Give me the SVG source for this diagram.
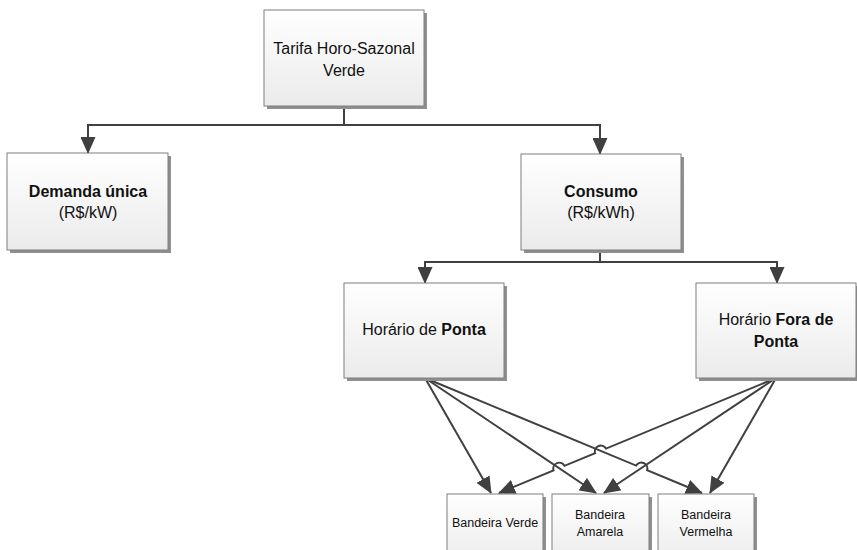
<svg xmlns="http://www.w3.org/2000/svg" width="857" height="550" viewBox="0 0 857 550">
<defs>
<linearGradient id="g" x1="0" y1="0" x2="0" y2="1">
<stop offset="0" stop-color="#ffffff"/>
<stop offset="1" stop-color="#ebebeb"/>
</linearGradient>
<marker id="ah" markerUnits="userSpaceOnUse" markerWidth="17" markerHeight="15" viewBox="0 0 17 15" refX="16" refY="7.5" orient="auto">
<path d="M0,0 L17,7.5 L0,15 Z" fill="#404040"/>
</marker>
</defs>
<style>
.sh{fill:#8f8f8f}
.bx{fill:url(#g);stroke:#7f7f7f;stroke-width:1}
.t{font-family:"Liberation Sans",Arial,sans-serif;font-size:16px;fill:#111111;text-anchor:middle}
.s{font-family:"Liberation Sans",Arial,sans-serif;font-size:12.5px;fill:#111111;text-anchor:middle}
.b{font-weight:bold}
.c{fill:none;stroke:#404040;stroke-width:2}
</style>
<g id="connectors">
<path class="c" d="M344,106 V125 H88 V153" marker-end="url(#ah)"/>
<path class="c" d="M344,125 H600 V154" marker-end="url(#ah)"/>
<path class="c" d="M600,250 V262 H425 V283" marker-end="url(#ah)"/>
<path class="c" d="M600,262 H777 V283" marker-end="url(#ah)"/>
<path class="c" d="M425,378 L491,493" marker-end="url(#ah)"/>
<path class="c" d="M425,378 L596,493" marker-end="url(#ah)"/>
<path class="c" d="M425,378 L636.1,465.6 A6,6 0 0 1 647.1,470.2 L702,493" marker-end="url(#ah)"/>
<path class="c" d="M776,378 L606.1,448.6 A6,6 0 0 0 595.1,453.2 L564.5,465.8 A6,6 0 0 0 553.5,470.4 L499,493" marker-end="url(#ah)"/>
<path class="c" d="M776,378 L604,493" marker-end="url(#ah)"/>
<path class="c" d="M776,378 L710,493" marker-end="url(#ah)"/>
</g>
<g id="tarifa">
<rect class="sh" x="267" y="13" width="160" height="96"/>
<rect class="bx" x="264" y="10" width="160" height="96"/>
<text class="t" x="344" y="54">Tarifa Horo-Sazonal</text>
<text class="t" x="344" y="76">Verde</text>
</g>
<g id="demanda">
<rect class="sh" x="10" y="156" width="161" height="97"/>
<rect class="bx" x="7" y="153" width="161" height="97"/>
<text class="t b" x="88" y="197">Demanda única</text>
<text class="t" x="88" y="218">(R$/kW)</text>
</g>
<g id="consumo">
<rect class="sh" x="524" y="157" width="160" height="96"/>
<rect class="bx" x="521" y="154" width="160" height="96"/>
<text class="t b" x="601" y="197">Consumo</text>
<text class="t" x="601" y="218">(R$/kWh)</text>
</g>
<g id="ponta">
<rect class="sh" x="347" y="286" width="160" height="95"/>
<rect class="bx" x="344" y="283" width="160" height="95"/>
<text class="t" x="424" y="335">Horário de <tspan class="b">Ponta</tspan></text>
</g>
<g id="foraponta">
<rect class="sh" x="699" y="286" width="160" height="95"/>
<rect class="bx" x="696" y="283" width="160" height="95"/>
<text class="t" x="776" y="325">Horário <tspan class="b">Fora de</tspan></text>
<text class="t b" x="776" y="347">Ponta</text>
</g>
<g id="bverde">
<rect class="sh" x="450" y="497" width="96" height="70"/>
<rect class="bx" x="447" y="494" width="96" height="70"/>
<text class="s" x="495" y="527">Bandeira Verde</text>
</g>
<g id="bamarela">
<rect class="sh" x="555" y="497" width="97" height="70"/>
<rect class="bx" x="552" y="494" width="97" height="70"/>
<text class="s" x="600" y="519">Bandeira</text>
<text class="s" x="600" y="536">Amarela</text>
</g>
<g id="bvermelha">
<rect class="sh" x="661" y="497" width="96" height="70"/>
<rect class="bx" x="658" y="494" width="96" height="70"/>
<text class="s" x="706" y="519">Bandeira</text>
<text class="s" x="706" y="536">Vermelha</text>
</g>
</svg>
